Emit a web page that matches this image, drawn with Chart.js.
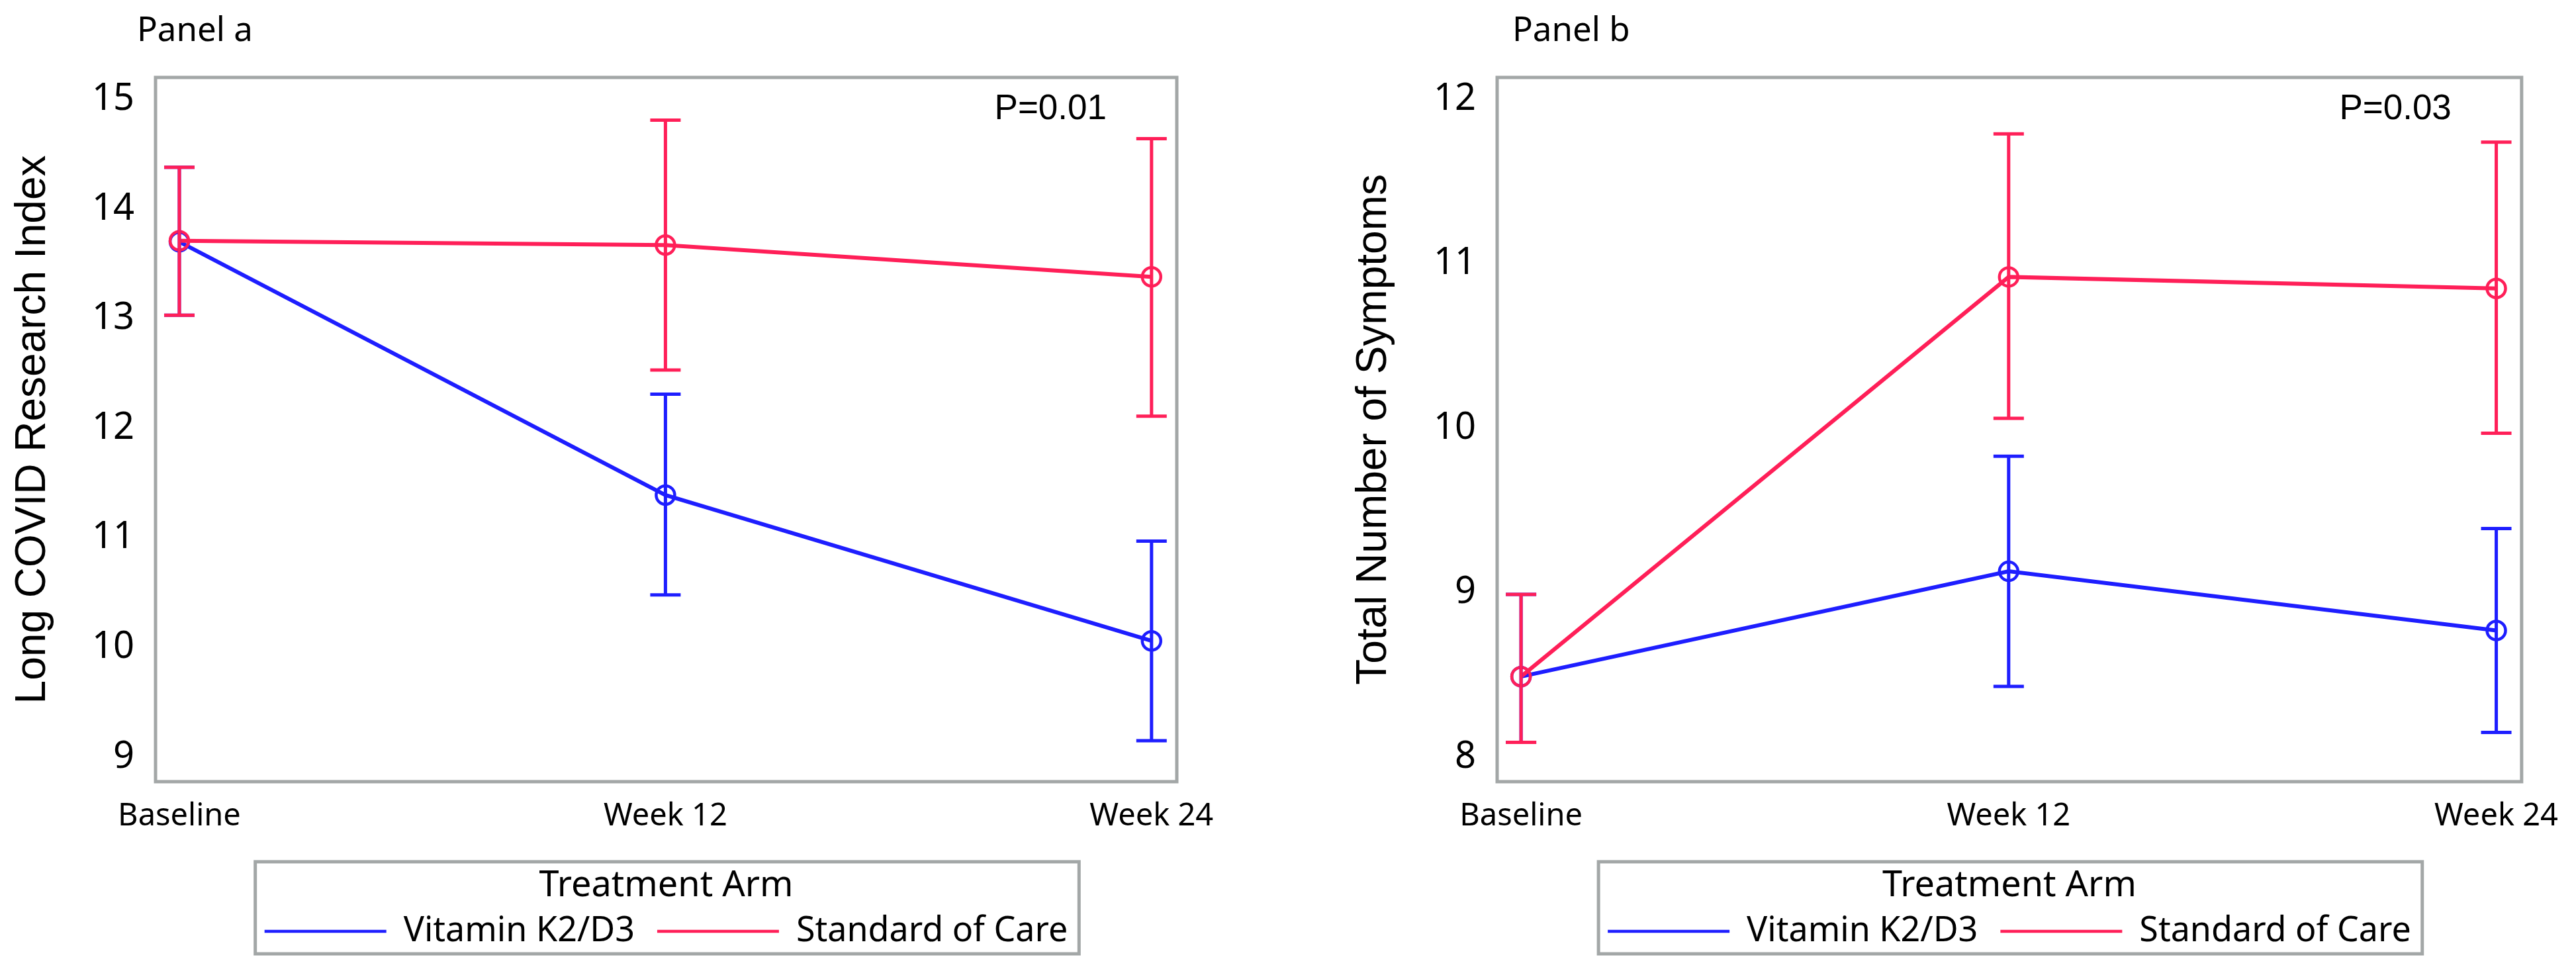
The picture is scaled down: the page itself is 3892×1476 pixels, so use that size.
<!DOCTYPE html>
<html>
<head>
<meta charset="utf-8">
<script src="https://cdn.jsdelivr.net/npm/chart.js@4.4.1/dist/chart.umd.min.js"></script>
<style>
    body { margin: 0; background: #fff; width: 3892px; height: 1476px; overflow: hidden; }
    canvas { position: absolute; top: 0; }
    #panelA { left: 0; }
    #panelB { left: 1946px; }
</style>
</head>
<body>
<canvas id="panelA" width="1946" height="1476"></canvas>
<canvas id="panelB" width="1946" height="1476"></canvas>
<script>
// Data - START
const TIMEPOINTS = ['Baseline', 'Week 12', 'Week 24'];
const ARMS = ['Vitamin K2/D3', 'Standard of Care'];

// panel a - Long COVID Research Index
const indexTicks = [9, 10, 11, 12, 13, 14, 15];
const indexVitamin = [13.70, 11.39, 10.06];
const indexVitaminLow = [13.03, 10.48, 9.15];
const indexVitaminHigh = [14.38, 12.31, 10.97];
const indexCare = [13.71, 13.67, 13.38];
const indexCareLow = [13.03, 12.53, 12.11];
const indexCareHigh = [14.38, 14.81, 14.64];

// panel b - Total Number of Symptoms
const symptomTicks = [8, 9, 10, 11, 12];
const symptomVitamin = [8.49, 9.13, 8.77];
const symptomVitaminLow = [8.09, 8.43, 8.15];
const symptomVitaminHigh = [8.99, 9.83, 9.39];
const symptomCare = [8.49, 10.92, 10.85];
const symptomCareLow = [8.09, 10.06, 9.97];
const symptomCareHigh = [8.99, 11.79, 11.74];
// Data - END

const BLUE = '#1e1eff';
const RED = '#ff1f58';
const FRAME = '#a3a7a7';

let toPoints = (values) => values.map((v, i) => ({ x: i, y: v }));

// error bars, drawn from the dataset's own low/high arrays
let errorBarsPlugin = {
    id: 'errorBars',
    afterDatasetsDraw(chart) {
        let ctx = chart.ctx;
        let xs = chart.scales.x;
        let ys = chart.scales.y;
        let sets = chart.data.datasets.slice().sort((a, b) => b.order - a.order);
        sets.forEach((ds) => {
            ctx.save();
            ctx.strokeStyle = ds.borderColor;
            ctx.lineWidth = 5;
            ds.data.forEach((p, i) => {
                let px = xs.getPixelForValue(p.x);
                let lo = ys.getPixelForValue(ds.errLow[i]);
                let hi = ys.getPixelForValue(ds.errHigh[i]);
                ctx.beginPath();
                ctx.moveTo(px, lo);
                ctx.lineTo(px, hi);
                ctx.moveTo(px - 23, lo);
                ctx.lineTo(px + 23, lo);
                ctx.moveTo(px - 23, hi);
                ctx.lineTo(px + 23, hi);
                ctx.stroke();
            });
            ctx.restore();
        });
    }
};

// plot frame, legend frame, panel label and p-value
let framePlugin = {
    id: 'frame',
    afterDraw(chart, args, opts) {
        let ctx = chart.ctx;
        let a = chart.chartArea;
        let legend = chart.legend;
        ctx.save();
        ctx.strokeStyle = FRAME;
        ctx.lineWidth = 5;
        ctx.strokeRect(a.left, a.top, a.right - a.left, a.bottom - a.top);

        let boxes = legend.legendHitBoxes;
        let first = boxes[0];
        let last = boxes[boxes.length - 1];
        let left = first.left - 14;
        let right = last.left + last.width + 17;
        ctx.strokeRect(left, legend.top - 10, right - left, legend.bottom - legend.top + 8);

        ctx.fillStyle = '#000';
        ctx.font = '51px "Noto Sans"';
        ctx.textAlign = 'left';
        ctx.textBaseline = 'alphabetic';
        ctx.fillText(opts.panel, opts.panelX, 62);

        ctx.font = '53px "Liberation Sans"';
        ctx.textAlign = 'right';
        ctx.textBaseline = 'middle';
        ctx.fillText(opts.pValue, a.right - 106, a.top + 48);
        ctx.restore();
    }
};

let makeDataset = (label, values, low, high, color, order) => ({
    label: label,
    data: toPoints(values),
    errLow: low,
    errHigh: high,
    order: order,
    borderColor: color,
    backgroundColor: color,
    borderWidth: 6,
    tension: 0,
    pointStyle: 'circle',
    pointRadius: 14,
    pointBorderWidth: 4.5,
    pointBorderColor: color,
    pointBackgroundColor: 'rgba(0,0,0,0)'
});

let makeChart = (canvasId, cfg) => {
    let ctx = document.getElementById(canvasId);
    let data = {
        datasets: [
            makeDataset(ARMS[0], cfg.vitamin, cfg.vitaminLow, cfg.vitaminHigh, BLUE, 1),
            makeDataset(ARMS[1], cfg.care, cfg.careLow, cfg.careHigh, RED, 0)
        ]
    };
    let config = {
        type: 'line',
        data: data,
        options: {
            responsive: false,
            animation: false,
            devicePixelRatio: 1,
            layout: {
                padding: { top: 117, left: cfg.padLeft, right: cfg.padRight, bottom: 33 }
            },
            scales: {
                x: {
                    type: 'linear',
                    min: -0.049,
                    max: 2.052,
                    afterBuildTicks: (s) => { s.ticks = TIMEPOINTS.map((t, i) => ({ value: i })); },
                    afterFit: (s) => { s.height = 131; },
                    ticks: {
                        callback: (v) => TIMEPOINTS[v],
                        color: '#000',
                        font: { family: 'Noto Sans', size: 47 },
                        padding: 25,
                        maxRotation: 0,
                        autoSkip: false
                    },
                    grid: { display: false, drawTicks: false },
                    border: { display: false }
                },
                y: {
                    min: cfg.min,
                    max: cfg.max,
                    afterBuildTicks: (s) => { s.ticks = cfg.ticks.map((v) => ({ value: v })); },
                    afterFit: (s) => { s.width = cfg.yWidth; },
                    ticks: {
                        color: '#000',
                        font: { family: 'Noto Sans', size: 56 },
                        padding: 32
                    },
                    grid: { display: false, drawTicks: false },
                    border: { display: false },
                    title: {
                        display: true,
                        text: cfg.yTitle,
                        color: '#000',
                        font: { family: '"Liberation Sans", Arial, sans-serif', size: 64 },
                        padding: { top: 12, bottom: 0 }
                    }
                }
            },
            plugins: {
                legend: {
                    position: 'bottom',
                    fullSize: false,
                    labels: {
                        usePointStyle: true,
                        pointStyle: 'line',
                        pointStyleWidth: 184,
                        padding: 34,
                        color: '#000',
                        font: { family: 'Noto Sans', size: 52 },
                        sort: (a, b) => a.datasetIndex - b.datasetIndex
                    },
                    title: {
                        display: true,
                        text: 'Treatment Arm',
                        color: '#000',
                        font: { family: 'Noto Sans', size: 54, lineHeight: 0.65 },
                        padding: 0
                    }
                },
                tooltip: { enabled: false },
                frame: { panel: cfg.panel, panelX: cfg.panelX, pValue: cfg.pValue }
            }
        },
        plugins: [errorBarsPlugin, framePlugin]
    };
    return new Chart(ctx, config);
};

let indexChart = makeChart('panelA', {
    panel: 'Panel a',
    panelX: 207,
    pValue: 'P=0.01',
    yTitle: 'Long COVID Research Index',
    ticks: indexTicks,
    min: 8.776,
    max: 15.199,
    yWidth: 235,
    padLeft: 0,
    padRight: 168,
    vitamin: indexVitamin,
    vitaminLow: indexVitaminLow,
    vitaminHigh: indexVitaminHigh,
    care: indexCare,
    careLow: indexCareLow,
    careHigh: indexCareHigh
});

let symptomChart = makeChart('panelB', {
    panel: 'Panel b',
    panelX: 339,
    pValue: 'P=0.03',
    yTitle: 'Total Number of Symptoms',
    ticks: symptomTicks,
    min: 7.851,
    max: 12.133,
    yWidth: 236,
    padLeft: 80,
    padRight: 82,
    vitamin: symptomVitamin,
    vitaminLow: symptomVitaminLow,
    vitaminHigh: symptomVitaminHigh,
    care: symptomCare,
    careLow: symptomCareLow,
    careHigh: symptomCareHigh
});
</script>
</body>
</html>
